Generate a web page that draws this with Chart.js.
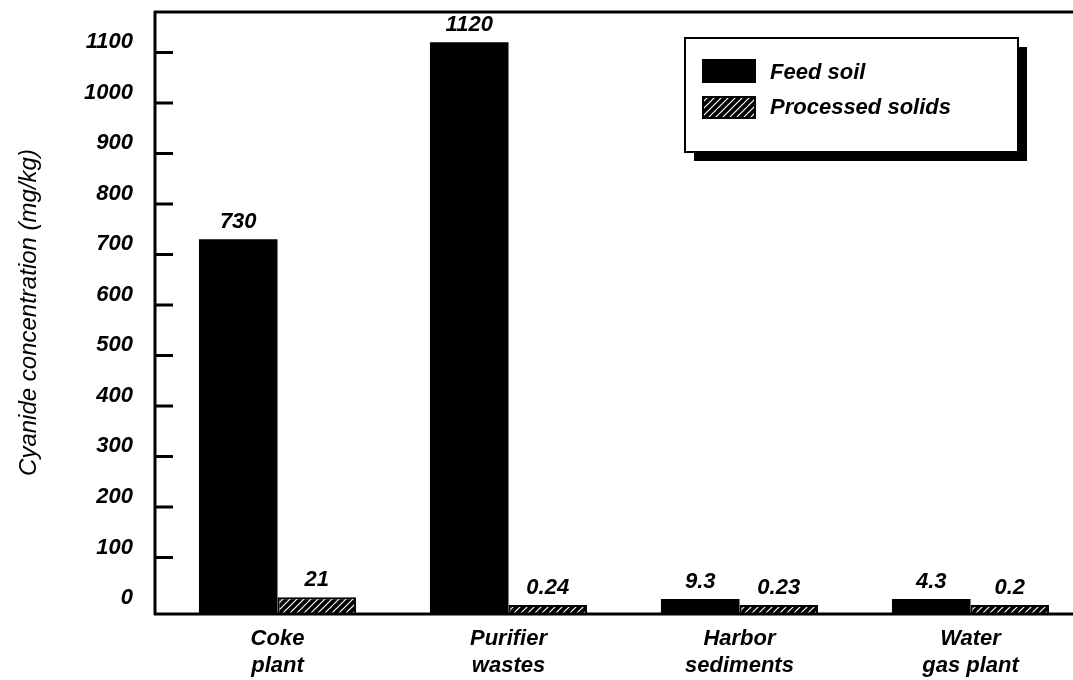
<!DOCTYPE html>
<html><head><meta charset="utf-8">
<script src="https://cdn.jsdelivr.net/npm/chart.js@4/dist/chart.umd.min.js"></script>
<style>
html,body{margin:0;padding:0;background:#fff;overflow:hidden;width:1073px;height:680px}
#wrap{position:relative;width:1090px;height:680px}
</style></head>
<body><div id="wrap"><canvas id="c" width="1090" height="680"></canvas></div>
<script>
// ---- data ----
const categories = [['Coke', 'plant'], ['Purifier', 'wastes'], ['Harbor', 'sediments'], ['Water', 'gas plant']];
const seriesNames = ['Feed soil', 'Processed solids'];
const feedSoil = [730, 1120, 9.3, 4.3];
const processedSolids = [21, 0.24, 0.23, 0.2];
const yTickValues = [0, 100, 200, 300, 400, 500, 600, 700, 800, 900, 1000, 1100];
const yTitle = 'Cyanide concentration (mg/kg)';

const FAM = "'Liberation Sans', Arial, sans-serif";
Chart.defaults.font.family = FAM;
Chart.defaults.color = '#000';

const canvas = document.getElementById('c');
const ctx = canvas.getContext('2d');

function makeHatch() {
  const s = 7;
  const c = document.createElement('canvas');
  c.width = s; c.height = s;
  const g = c.getContext('2d');
  g.fillStyle = '#000';
  g.fillRect(0, 0, s, s);
  g.strokeStyle = '#fff';
  g.lineWidth = 1.2;
  g.beginPath();
  g.moveTo(0, s); g.lineTo(s, 0);
  g.moveTo(-1, 1); g.lineTo(1, -1);
  g.moveTo(s - 1, s + 1); g.lineTo(s + 1, s - 1);
  g.stroke();
  return ctx.createPattern(c, 'repeat');
}
const hatch = makeHatch();

const AXIS_X = 155;

const framePlugin = {
  id: 'frame',
  afterDraw(chart) {
    const c = chart.ctx;
    const ys = chart.scales.y;
    const area = chart.chartArea;
    c.save();
    c.strokeStyle = '#000';
    c.lineWidth = 3;
    c.beginPath();
    c.moveTo(AXIS_X, area.top - 1);
    c.lineTo(AXIS_X, area.bottom + 2);
    c.moveTo(AXIS_X - 1, area.top);
    c.lineTo(chart.width, area.top);
    c.moveTo(AXIS_X - 1, area.bottom + 1);
    c.lineTo(chart.width, area.bottom + 1);
    yTickValues.forEach(v => {
      if (v === 0) return;
      const y = ys.getPixelForValue(v);
      c.moveTo(AXIS_X, y);
      c.lineTo(AXIS_X + 18, y);
    });
    c.stroke();
    c.restore();
  }
};

const valueLabelPlugin = {
  id: 'valueLabels',
  afterDatasetsDraw(chart) {
    const c = chart.ctx;
    c.save();
    c.fillStyle = '#000';
    c.font = 'italic bold 22px ' + FAM;
    c.textAlign = 'center';
    c.textBaseline = 'alphabetic';
    chart.data.datasets.forEach((ds, di) => {
      const meta = chart.getDatasetMeta(di);
      meta.data.forEach((el, i) => {
        c.fillText(String(ds.data[i]), el.x, el.y - 11);
      });
    });
    c.restore();
  }
};

const legendPlugin = {
  id: 'boxLegend',
  afterDraw(chart) {
    const c = chart.ctx;
    const bx = 685, by = 38, bw = 333, bh = 114, sh = 9;
    c.save();
    c.fillStyle = '#000';
    c.fillRect(bx + sh, by + sh, bw, bh);
    c.fillStyle = '#fff';
    c.fillRect(bx, by, bw, bh);
    c.strokeStyle = '#000';
    c.lineWidth = 2;
    c.strokeRect(bx, by, bw, bh);
    const rows = [{ y: 60, h: 22, base: 79 }, { y: 97, h: 21, base: 114 }];
    chart.data.datasets.forEach((ds, i) => {
      const r = rows[i];
      c.fillStyle = ds.backgroundColor;
      c.fillRect(703, r.y, 52, r.h);
      c.lineWidth = 2;
      c.strokeStyle = '#000';
      c.strokeRect(703, r.y, 52, r.h);
      c.fillStyle = '#000';
      c.font = 'italic bold 22px ' + FAM;
      c.textAlign = 'left';
      c.textBaseline = 'alphabetic';
      c.fillText(ds.label, 770, r.base);
    });
    c.restore();
  }
};

new Chart(ctx, {
  type: 'bar',
  data: {
    labels: categories,
    datasets: [
      { label: seriesNames[0], data: feedSoil, backgroundColor: '#000', borderWidth: 0,
        minBarLength: 14, base: -10 },
      { label: seriesNames[1], data: processedSolids, backgroundColor: hatch, borderColor: '#000',
        borderWidth: 2, borderSkipped: 'bottom', minBarLength: 8, base: -10 }
    ]
  },
  options: {
    responsive: false,
    animation: false,
    events: [],
    layout: { padding: { top: 12, right: 4, left: 0, bottom: 0 } },
    datasets: { bar: { barPercentage: 1.0, categoryPercentage: 0.68 } },
    plugins: { legend: { display: false }, tooltip: { enabled: false } },
    scales: {
      x: {
        grid: { display: false, drawTicks: false },
        border: { display: false },
        ticks: { font: { size: 22, style: 'italic', weight: 'bold' }, color: '#000',
                 padding: 13, maxRotation: 0, autoSkip: false },
        afterFit: s => { s.height = 67; s.paddingLeft = 0; s.paddingRight = 0; }
      },
      y: {
        min: -10, max: 1180,
        grid: { display: false, drawTicks: false },
        border: { display: false },
        afterBuildTicks: s => { s.ticks = yTickValues.map(v => ({ value: v })); },
        ticks: { font: { size: 22, style: 'italic', weight: 'bold' }, color: '#000',
                 padding: 29, labelOffset: -10, callback: v => String(v) },
        title: { display: true, text: yTitle, color: '#000',
                 font: { size: 24, style: 'italic', weight: 'normal' },
                 padding: { top: 15, bottom: 0 } },
        afterFit: s => { s.width = 162; s.paddingTop = 0; s.paddingBottom = 0; }
      }
    }
  },
  plugins: [framePlugin, valueLabelPlugin, legendPlugin]
});
</script>
</body></html>
